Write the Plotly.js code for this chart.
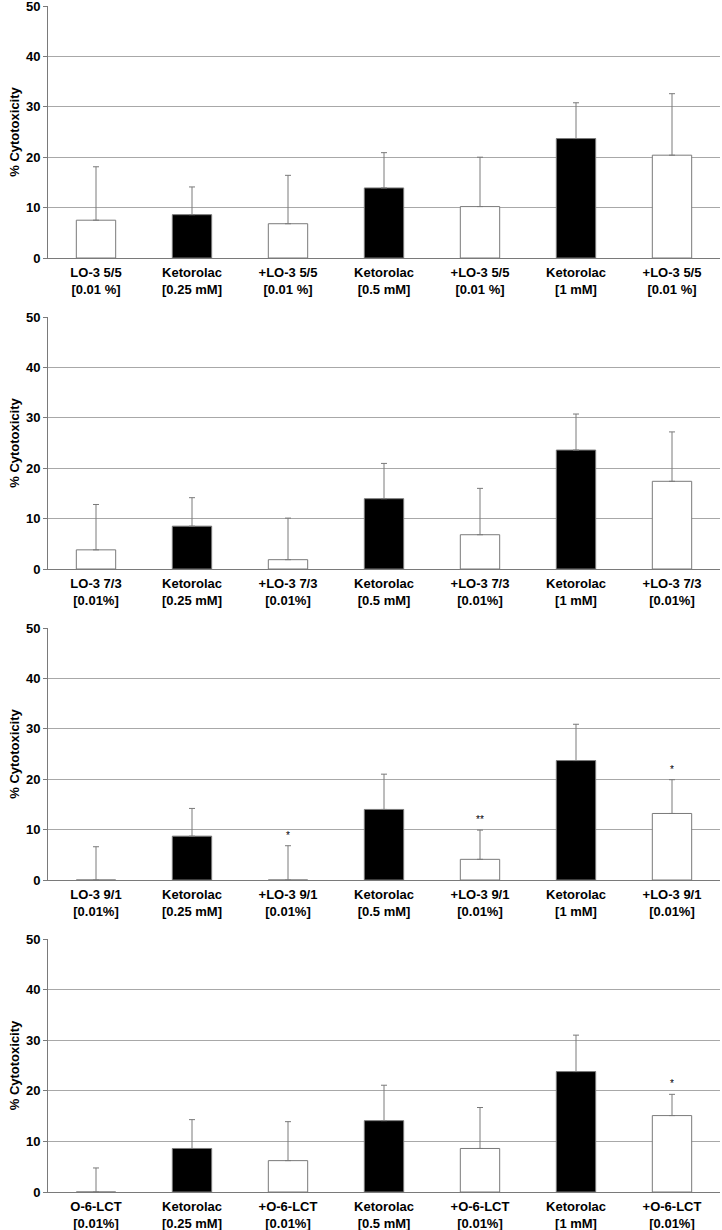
<!DOCTYPE html>
<html>
<head>
<meta charset="utf-8">
<script src="https://cdn.plot.ly/plotly-3.0.1.min.js"></script>
<style>html,body{margin:0;padding:0;background:#fff}#chart{width:722px;height:1230px}</style>
</head>
<body>
<div id="chart"></div>
<script>
// ---- data ----
const labels1 = ["LO-3 5/5<br>[0.01 %]","Ketorolac<br>[0.25 mM]","+LO-3 5/5<br>[0.01 %]","Ketorolac<br>[0.5 mM]","+LO-3 5/5<br>[0.01 %]","Ketorolac<br>[1 mM]","+LO-3 5/5<br>[0.01 %]"];
const labels2 = ["LO-3 7/3<br>[0.01%]","Ketorolac<br>[0.25 mM]","+LO-3 7/3<br>[0.01%]","Ketorolac<br>[0.5 mM]","+LO-3 7/3<br>[0.01%]","Ketorolac<br>[1 mM]","+LO-3 7/3<br>[0.01%]"];
const labels3 = ["LO-3 9/1<br>[0.01%]","Ketorolac<br>[0.25 mM]","+LO-3 9/1<br>[0.01%]","Ketorolac<br>[0.5 mM]","+LO-3 9/1<br>[0.01%]","Ketorolac<br>[1 mM]","+LO-3 9/1<br>[0.01%]"];
const labels4 = ["O-6-LCT<br>[0.01%]","Ketorolac<br>[0.25 mM]","+O-6-LCT<br>[0.01%]","Ketorolac<br>[0.5 mM]","+O-6-LCT<br>[0.01%]","Ketorolac<br>[1 mM]","+O-6-LCT<br>[0.01%]"];

const values1 = [7.5, 8.6, 6.8, 13.9, 10.2, 23.7, 20.4];
const errors1 = [10.6, 5.5, 9.6, 7.0, 9.8, 7.1, 12.2];
const values2 = [3.8, 8.5, 1.85, 13.95, 6.8, 23.6, 17.4];
const errors2 = [9.0, 5.65, 8.25, 7.0, 9.2, 7.15, 9.8];
const values3 = [0, 8.7, 0, 14.0, 4.1, 23.7, 13.2];
const errors3 = [6.6, 5.5, 6.8, 7.0, 5.8, 7.2, 6.7];
const values4 = [0, 8.6, 6.2, 14.1, 8.6, 23.8, 15.1];
const errors4 = [4.75, 5.7, 7.7, 7.0, 8.1, 7.2, 4.2];

const sig1 = ["","","","","","",""];
const sig2 = ["","","","","","",""];
const sig3 = ["","","*","","**","","*"];
const sig4 = ["","","","","","","*"];

const isKetorolac = [false, true, false, true, false, true, false];
const yTicks = [0, 10, 20, 30, 40, 50];
const yTitle = "% Cytotoxicity";

// ---- build ----
const panels = [
  {labels: labels1, values: values1, errors: errors1, sig: sig1},
  {labels: labels2, values: values2, errors: errors2, sig: sig2},
  {labels: labels3, values: values3, errors: errors3, sig: sig3},
  {labels: labels4, values: values4, errors: errors4, sig: sig4}
];
const H = 1230;
const pix = [[6, 258], [317, 569], [628, 880], [939, 1192]]; // top, bottom pixel of each plot
const gray = "#7a7a7a";
const gridGray = "#a8a8a8";
const fontFam = "Liberation Sans, Arial, sans-serif";

const data = [];
const annotations = [];
const layout = {
  width: 722, height: H,
  margin: {l: 48, r: 2, t: 0, b: 0},
  paper_bgcolor: "#fff", plot_bgcolor: "#fff",
  showlegend: false,
  bargap: 0.59,
  font: {family: fontFam, color: "#000"},
  annotations: annotations
};

panels.forEach((p, i) => {
  const n = i === 0 ? "" : String(i + 1);
  const idx = p.values.map((_, k) => k);
  data.push({
    type: "bar",
    x: idx,
    y: p.values,
    xaxis: "x" + n, yaxis: "y" + n,
    marker: {
      color: isKetorolac.map(k => k ? "#000" : "#fff"),
      line: {color: gray, width: 1}
    },
    error_y: {
      type: "data", symmetric: false,
      array: p.errors,
      arrayminus: p.errors.map(() => 0),
      color: gray, thickness: 1, width: 3
    },
    hoverinfo: "skip"
  });
  p.sig.forEach((s, k) => {
    if (!s) return;
    annotations.push({
      xref: "x" + n, yref: "y" + n,
      x: idx[k], y: p.values[k] + p.errors[k],
      text: s, showarrow: false,
      yanchor: "bottom", yshift: 3,
      font: {family: fontFam, size: 10, color: "#000"}
    });
  });
  const dom = [1 - pix[i][1] / H, 1 - pix[i][0] / H];
  layout["xaxis" + n] = {
    domain: [0, 1],
    anchor: "y" + n,
    range: [-0.5, 6.5],
    tickmode: "array",
    tickvals: idx,
    ticktext: p.labels,
    ticks: "",
    ticklabelstandoff: 2,
    showgrid: false,
    zeroline: false,
    showline: true, linecolor: gray, linewidth: 1,
    tickfont: {family: fontFam, size: 13, weight: "bold", color: "#000"},
    fixedrange: true
  };
  layout["yaxis" + n] = {
    domain: dom,
    anchor: "x" + n,
    range: [0, 50],
    tickmode: "array",
    tickvals: yTicks,
    ticks: "outside", ticklen: 4, tickcolor: gray, tickwidth: 1,
    ticklabeloverflow: "allow",
    showgrid: true, gridcolor: gridGray, gridwidth: 1,
    zeroline: false,
    showline: true, linecolor: gray, linewidth: 1,
    tickfont: {family: fontFam, size: 13, weight: "bold", color: "#000"},
    title: {text: yTitle, standoff: 3, font: {family: fontFam, size: 13, weight: "bold", color: "#000"}},
    automargin: false,
    fixedrange: true
  };
});

Plotly.newPlot("chart", data, layout, {displayModeBar: false, staticPlot: true});
</script>
</body>
</html>
